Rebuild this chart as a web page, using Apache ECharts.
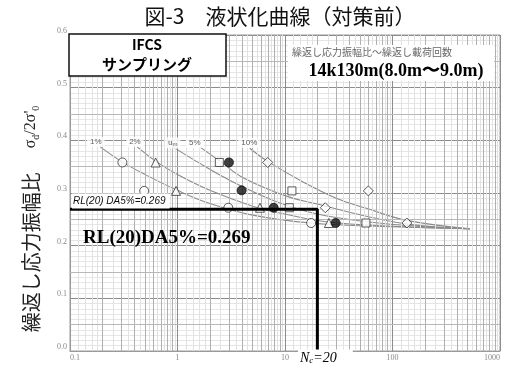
<!DOCTYPE html>
<html><head><meta charset="utf-8">
<script src="https://cdn.jsdelivr.net/npm/echarts@6/dist/echarts.min.js"></script>
<style>html,body{margin:0;padding:0;background:#fff}#c{width:508px;height:365px}</style>
</head><body><div id="c"></div>
<script>
// ---- data ----
const xTickValues = [0.1, 1, 10, 100, 1000];
const xTickLabels = ['0.1', '1', '10', '100', '1000'];
const yTickLabels = ['0.0', '0.1', '0.2', '0.3', '0.4', '0.5', '0.6'];

const openCircle = [[0.307, 0.358], [0.49, 0.304], [2.97, 0.272], [17.5, 0.243]];
const triangle   = [[0.626, 0.358], [0.97, 0.304], [5.85, 0.272], [25.6, 0.243]];
const square     = [[2.45, 0.358], [11.6, 0.304], [10.97, 0.272], [56.6, 0.243]];
const filled     = [[3.01, 0.358], [3.95, 0.305], [7.85, 0.272], [29.6, 0.243]];
const diamond    = [[6.9, 0.358], [59.6, 0.304], [23.7, 0.272], [136, 0.243]];

const curve1  = [[0.19, 0.388], [0.3, 0.36], [0.5, 0.335], [1, 0.305], [2, 0.28], [5, 0.258], [17.5, 0.243], [100, 0.236], [525, 0.232]];
const curve2  = [[0.42, 0.388], [0.63, 0.36], [1, 0.335], [2, 0.305], [5, 0.275], [10, 0.26], [25, 0.245], [100, 0.237], [525, 0.232]];
const curveUm = [[0.9, 0.388], [1.5, 0.36], [3, 0.325], [8, 0.285], [20, 0.26], [60, 0.245], [200, 0.236], [525, 0.232]];
const curve5  = [[1.6, 0.388], [2.5, 0.36], [4, 0.33], [10, 0.295], [20, 0.279], [57, 0.256], [150, 0.24], [525, 0.232]];
const curve10 = [[4.7, 0.385], [6.9, 0.36], [15, 0.32], [30, 0.29], [57, 0.271], [136, 0.248], [525, 0.232]];

const curveLabels = [['1%', 0.174, 0.397], ['2%', 0.402, 0.397], ['um', 0.903, 0.395], ['5%', 1.45, 0.395], ['10%', 4.65, 0.395]];

const rlValue = 0.269;
const ncValue = 20;
const rlPath = [[0.1, rlValue], [ncValue, rlValue], [ncValue, 0]];

const xInner = [0.2,0.3,0.4,0.5,0.6,0.7,0.8,0.9, 2,3,4,5,6,7,8,9, 20,30,40,50,60,70,80,90, 200,300,400,500,600,700,800,900];
const xFineBase = [1.2, 1.4, 1.6, 1.8, 2.5, 3.5, 4.5, 5.5, 6.5, 7.5, 8.5, 9.5];
const yMid = [0.05, 0.15, 0.25, 0.35, 0.45, 0.55];

// ---- chart ----
const decades = [0.1, 1, 10, 100];
const xFine = [];
decades.forEach(d => xFineBase.forEach(b => xFine.push(+(b * d).toPrecision(3))));

const chart = echarts.init(document.getElementById('c'));
const markerStyle = {color: '#fff', borderColor: '#333', borderWidth: 1};
function markers(data, symbol, size, fill) {
  return {type: 'scatter', data: data, symbol: symbol, symbolSize: size, z: 5,
    itemStyle: fill ? {color: '#111', borderColor: '#111', borderWidth: 1} : markerStyle};
}
function curve(data) {
  return {type: 'line', data: data, smooth: 0.4, showSymbol: false, symbol: 'none', z: 3,
    lineStyle: {color: '#8a8a8a', width: 1.1}};
}
function gridLines(vals, axis, color, width) {
  return {type: 'line', data: [], z: 1, silent: true,
    markLine: {silent: true, symbol: 'none', label: {show: false}, animation: false,
      lineStyle: {color: color, width: width, type: 'solid'},
      data: vals.map(v => ({[axis]: v}))}};
}

chart.setOption({
  animation: false,
  grid: {left: 70, right: 8, top: 35, bottom: 14, show: true, borderColor: '#9a9a9a', borderWidth: 1},
  xAxis: {type: 'log', logBase: 10, min: 0.1, max: 1000,
    axisLine: {lineStyle: {color: '#9a9a9a'}}, axisTick: {show: false},
    splitLine: {show: true, lineStyle: {color: '#8c8c8c', width: 1}},
    axisLabel: {fontFamily: 'Liberation Serif', fontSize: 8, color: '#888', margin: 3, alignMinLabel: 'left', alignMaxLabel: 'right',
      formatter: v => { const i = xTickValues.findIndex(t => Math.abs(t - v) / t < 1e-6); return i >= 0 ? xTickLabels[i] : ''; }}},
  yAxis: {type: 'value', min: 0, max: 0.6, interval: 0.1,
    axisLine: {lineStyle: {color: '#9a9a9a'}}, axisTick: {show: false},
    splitLine: {show: true, lineStyle: {color: '#8c8c8c', width: 1}},
    minorTick: {show: false, splitNumber: 10},
    minorSplitLine: {show: true, lineStyle: {color: '#e6e6e6', width: 1}},
    axisLabel: {fontFamily: 'Liberation Serif', fontSize: 8, color: '#888', margin: 3, verticalAlign: 'bottom',
      formatter: v => yTickLabels[Math.round(v * 10)]}},
  series: [
    gridLines(xFine, 'xAxis', '#e2e2e2', 1),
    gridLines(xInner, 'xAxis', '#b0b0b0', 1),
    gridLines(yMid, 'yAxis', '#b8b8b8', 1),
    curve(curve1), curve(curve2), curve(curveUm), curve(curve5), curve(curve10),
    markers(openCircle, 'circle', 9, false),
    markers(triangle, 'triangle', 9, false),
    markers(square, 'rect', 8, false),
    markers(filled, 'circle', 9, true),
    markers(diamond, 'diamond', 10, false),
    {type: 'line', data: rlPath, symbol: 'none', z: 6, lineStyle: {color: '#000', width: 3}},
    {type: 'scatter', symbolSize: 0, z: 7, silent: true,
      data: curveLabels.map(c => ({value: [c[1], c[2]], name: c[0]})),
      label: {show: true, position: 'inside', fontFamily: 'Liberation Sans', fontSize: 8, color: '#333',
        backgroundColor: '#fff', padding: [1, 3],
        formatter: p => p.name === 'um' ? '{a|u}{b|m}' : p.name,
        rich: {a: {fontSize: 9, color: '#333', fontFamily: 'Liberation Serif'}, b: {fontSize: 6, color: '#333', verticalAlign: 'bottom', padding: [3, 0, 0, 0]}}}}
  ],
  graphic: [
    {type: 'text', z: 21, style: {x: 280, y: 16, text: '図-3　液状化曲線（対策前）', align: 'center', verticalAlign: 'middle', fill: '#111',
      font: '21px "Noto Sans CJK JP"'}},
    {type: 'rect', shape: {x: 69, y: 34, width: 157, height: 42}, z: 20,
      style: {fill: '#fff', stroke: '#111', lineWidth: 1.5}},
    {type: 'text', z: 21, style: {x: 147, y: 45, text: 'IFCS', align: 'center', verticalAlign: 'middle', fill: '#000',
      font: 'bold 14px "Noto Sans CJK JP"'}},
    {type: 'text', z: 21, style: {x: 147, y: 64, text: 'サンプリング', align: 'center', verticalAlign: 'middle', fill: '#000',
      font: 'bold 15px "Noto Sans CJK JP"'}},
    {type: 'rect', shape: {x: 288, y: 45, width: 206, height: 36}, z: 20, style: {fill: '#fff'}},
    {type: 'text', z: 21, style: {x: 372, y: 52, text: '繰返し応力振幅比～繰返し載荷回数', align: 'center', verticalAlign: 'middle',
      fill: '#666', font: '10px "Noto Sans CJK JP"'}},
    {type: 'text', z: 21, style: {x: 396, y: 71, text: '14k130m(8.0m〜9.0m)', align: 'center', verticalAlign: 'middle',
      fill: '#000', font: 'bold 18px "Liberation Serif"'}},
    {type: 'text', z: 21, style: {x: 72, y: 201, text: 'RL(20) DA5%=0.269', align: 'left', verticalAlign: 'middle',
      fill: '#111', font: 'italic 10px "Liberation Sans"', backgroundColor: '#fff', padding: [3, 4, 2, 1]}},
    {type: 'text', z: 21, style: {x: 83, y: 238, text: 'RL(20)DA5%=0.269', align: 'left', verticalAlign: 'middle',
      fill: '#000', font: 'bold 19px "Liberation Serif"'}},
    {type: 'text', z: 21, style: {x: 298, y: 358, align: 'left', verticalAlign: 'middle',
      text: '{n|N}{c|c}{e|=20}', backgroundColor: '#fff', padding: [1, 16, 1, 2],
      rich: {n: {font: 'italic 14px "Liberation Serif"', fill: '#000'}, c: {font: 'italic 9px "Liberation Serif"', fill: '#000', verticalAlign: 'bottom', padding: [6, 0, 0, 0]},
        e: {font: 'italic 14px "Liberation Serif"', fill: '#000'}}}},
    {type: 'text', z: 21, rotation: Math.PI / 2, x: 31, y: 219,
      style: {x: 0, y: 0, align: 'center', verticalAlign: 'middle', fill: '#222',
        text: '{a|繰返し応力振幅比}{g|　　}{s|σ}{d|d}{s|/2σ\'}{d|0}',
        rich: {a: {font: '20px "Noto Sans CJK JP"', fill: '#222'}, g: {font: '12px "Noto Sans CJK JP"'},
          s: {font: '16px "Liberation Serif"', fill: '#222'}, d: {font: '10px "Liberation Serif"', fill: '#222', verticalAlign: 'bottom', padding: [6, 0, 0, 0]}}}}
  ]
});
</script></body></html>
